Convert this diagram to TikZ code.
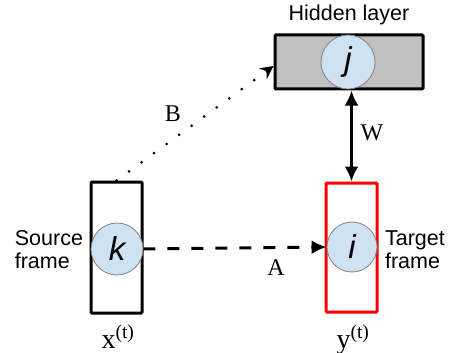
\documentclass[tikz,border=0pt]{standalone}
\usepackage{fontspec}
\setmainfont{Liberation Serif}
\newfontfamily\labelfont{Liberation Sans}
\usepackage{xcolor}
\usetikzlibrary{arrows, arrows.meta, positioning, calc}
\definecolor{unitblue}{HTML}{CFE2F3}
\definecolor{layergray}{HTML}{C0C0C0}
\tikzset{
  layer/.style={draw, line width=3pt, rounded corners=1pt, inner sep=0pt},
  unit/.style={circle, draw=gray, line width=0.8pt, fill=unitblue, inner sep=0pt,
    font=\labelfont\fontsize{33}{33}\selectfont\itshape},
  sans/.style={font=\labelfont\fontsize{21.5}{23}\selectfont},
  wlabel/.style={font=\fontsize{24}{26}\selectfont},
  vlabel/.style={font=\fontsize{28}{30}\selectfont},
  conn/.style={line width=3pt, -{Latex[length=15pt,width=14pt]}}
}
\begin{document}
\begin{tikzpicture}[x=1pt, y=-1pt]
  \useasboundingbox (0,0) rectangle (458,353);
  % layers
  \node[layer, fill=layergray, minimum width=148pt, minimum height=54pt] (h) at (349,62) {};
  \node[layer, minimum width=51pt, minimum height=131pt] (s) at (116.5,247.5) {};
  \node[layer, draw=red, minimum width=51pt, minimum height=129pt] (t) at (351.5,247.5) {};
  % units
  \node[unit, minimum size=54pt] (j) at (348,62) {j};
  \node[unit, minimum size=52pt] (k) at (117,249) {k};
  \node[unit, minimum size=50pt] (i) at (352,247) {i};
  % texts
  \node[sans] (hl) at (349,15) {Hidden layer};
  \node[sans, align=left, anchor=east] (sf) at ($(s.west)+(-3,2)$) {Source\\frame};
  \node[sans, align=left, anchor=west] (tf) at ($(t.east)+(3,2)$) {Target\\frame};
  \node[vlabel, anchor=base] (x) at (118,348) {x\textsuperscript{(t)}};
  \node[vlabel, anchor=base] (y) at (353,348) {y\textsuperscript{(t)}};
  % connections
  \draw[conn, dash pattern=on 12pt off 12pt] (k.east) -- (i.west);
  \draw[conn, {Latex[length=15pt,width=14pt]}-{Latex[length=15pt,width=14pt]}] (t.north |- h.south) -- (t.north);
  \draw[line width=3pt, line cap=round, dash pattern=on 0pt off 15.5pt, -{Stealth[length=13pt,width=13pt]}] (s.north) -- ($(h.west)+(0,4)$);
  \node[wlabel] (a) at (276,268) {A};
  \node[wlabel] (b) at (173,114) {B};
  \node[wlabel] (w) at (372,133) {W};
\end{tikzpicture}
\end{document}
